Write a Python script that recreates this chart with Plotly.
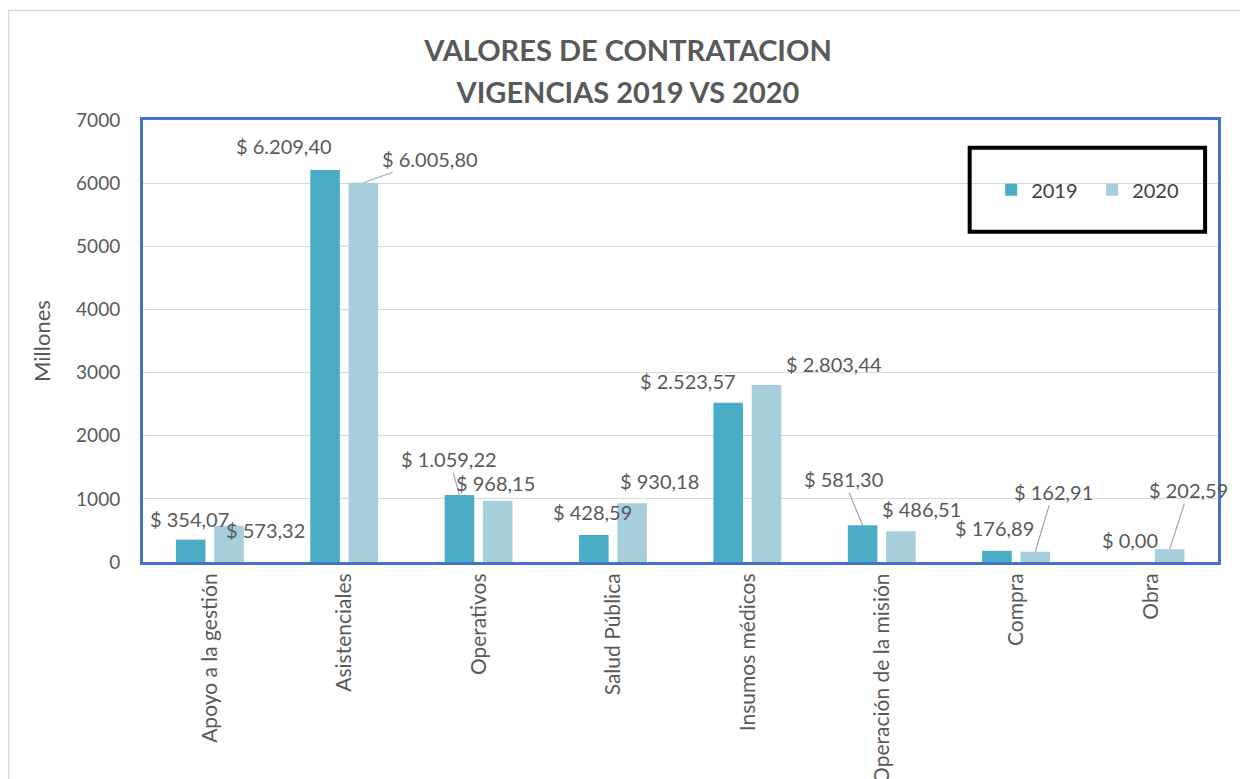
import numpy as np
import plotly.graph_objects as go

categories = ["Apoyo a la gestión", "Asistenciales", "Operativos", "Salud Pública",
              "Insumos médicos", "Operación de la misión", "Compra", "Obra"]
values_2019 = [354.07, 6209.40, 1059.22, 428.59, 2523.57, 581.30, 176.89, 0.00]
values_2020 = [573.32, 6005.80, 968.15, 930.18, 2803.44, 486.51, 162.91, 202.59]
series_names = ["2019", "2020"]
y_ticks = [0, 1000, 2000, 3000, 4000, 5000, 6000, 7000]

# label placement (pixel offsets from bar top centre); leader = drawn with line
lab_2019 = [(-1, -21, False), (-41, -24, False), (-10, -36, True), (-1, -23, False),
            (-40, -22, False), (-19, -46, True), (-2, -23, False), (-1, -22, False)]
lab_2020 = [(36, 4, False), (67, -24, True), (-2, -18, False), (27, -22, False),
            (67, -21, False), (21, -22, False), (18, -60, True), (19, -59, True)]

C2019 = "#4BACC6"
C2020 = "#A6CEDB"
GRAY = "#595959"
FONT = "Lato"

x = np.arange(len(categories))
BW = 0.22
OFF = [-0.255, 0.03]


def fmt(v):
    s = f"{v:,.2f}"
    s = s.replace(",", "X").replace(".", ",").replace("X", ".")
    return "$ " + s


fig = go.Figure()
for name, vals, col, off in [(series_names[0], values_2019, C2019, OFF[0]),
                             (series_names[1], values_2020, C2020, OFF[1])]:
    fig.add_trace(go.Bar(x=x, y=vals, name=name, marker_color=col,
                         width=BW, offset=off, marker_line_width=0))

LBL = dict(family=FONT, size=20, color=GRAY)
annotations = []
for vals, labs, off in [(values_2019, lab_2019, OFF[0]), (values_2020, lab_2020, OFF[1])]:
    for i, v in enumerate(vals):
        dx, dy, leader = labs[i]
        xc = x[i] + off + BW / 2
        if leader:
            annotations.append(dict(x=xc, y=v, xref="x", yref="y", text=fmt(v),
                                    showarrow=True, arrowhead=0, arrowwidth=1.2,
                                    arrowcolor="#A6A6A6", ax=dx, ay=dy, font=LBL))
        else:
            annotations.append(dict(x=xc, y=v, xref="x", yref="y", text=fmt(v),
                                    showarrow=False, xshift=dx, yshift=-dy, font=LBL))

title_txt = ("<span style='font-size:29px'><b>VALORES DE CONTRATACION</b></span><br>"
             "<span style='font-size:29px'><b>VIGENCIAS 2019 VS 2020</b></span>")

fig.update_layout(
    width=1240, height=771,
    margin=dict(l=135, r=30, t=112, b=217, autoexpand=False),
    paper_bgcolor="white", plot_bgcolor="white",
    font=dict(family=FONT, color=GRAY),
    title=dict(text=title_txt,
               font=dict(family=FONT, size=32, color=GRAY),
               x=0.5, xref="container", xanchor="center",
               y=0.931, yref="container", yanchor="top"),
    barmode="group",
    showlegend=True,
    legend=dict(orientation="h", x=0.789, xanchor="left", y=0.842, yanchor="middle",
                bgcolor="rgba(0,0,0,0)", font=dict(family=FONT, size=20, color="#404040"),
                entrywidth=56),
    annotations=annotations,
    shapes=[
        dict(type="rect", xref="paper", yref="paper", x0=-0.1251, x1=1.026,
             y0=-0.52, y1=1.248, line=dict(color="#D9D9D9", width=1.5), layer="below"),
        dict(type="rect", xref="paper", yref="paper", x0=0.769, x1=0.988,
             y0=0.747, y1=0.937, line=dict(color="black", width=4)),
    ],
)

fig.update_xaxes(range=[-0.5, len(categories) - 0.5], tickmode="array", tickvals=x,
                 ticktext=categories, tickangle=-90, showgrid=False, automargin=False,
                 showline=True, linecolor="#4472C4", linewidth=3, mirror=True,
                 tickfont=dict(family=FONT, size=21, color=GRAY), ticks="")
fig.update_yaxes(range=[0, 7000], tickvals=y_ticks, showgrid=True, gridcolor="#D9D9D9",
                 gridwidth=1, zeroline=False, automargin=False,
                 showline=True, linecolor="#4472C4", linewidth=3, mirror=True,
                 tickfont=dict(family=FONT, size=19, color=GRAY), ticklabelstandoff=16,
                 title=dict(text="Millones", font=dict(family=FONT, size=22, color=GRAY),
                            standoff=20))

fig.write_html("out.html")
